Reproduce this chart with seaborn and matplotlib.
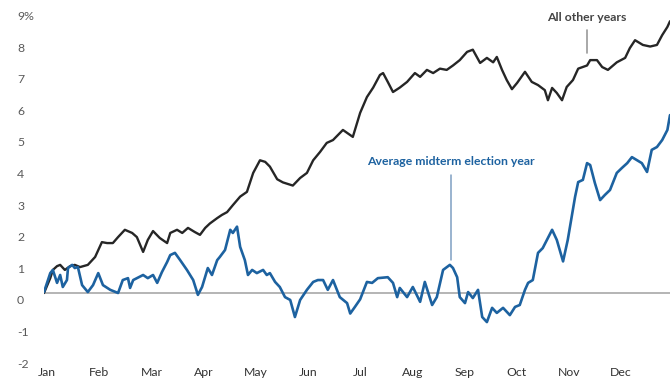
import numpy as np
import pandas as pd
import seaborn as sns
import matplotlib
matplotlib.use("Agg")
import matplotlib.pyplot as plt
from matplotlib.transforms import ScaledTranslation

# ---- data (x in months since Jan 1, y = cumulative return %) ----
other_x = [0.00, 0.12, 0.17, 0.25, 0.31, 0.40, 0.50, 0.59, 0.69, 0.84, 0.98, 1.11, 1.21, 1.32,
           1.42, 1.55, 1.69, 1.78, 1.90, 1.99, 2.09, 2.22, 2.36, 2.42, 2.55, 2.65, 2.76, 2.89,
           2.99, 3.09, 3.18, 3.32, 3.41, 3.51, 3.62, 3.76, 3.89, 4.01, 4.14, 4.24, 4.33, 4.47,
           4.58, 4.77, 4.91, 5.04, 5.16, 5.29, 5.42, 5.54, 5.73, 5.92, 6.06, 6.19, 6.31, 6.44,
           6.50, 6.59, 6.69, 6.82, 6.96, 7.11, 7.21, 7.34, 7.46, 7.59, 7.72, 7.84, 7.97, 8.11,
           8.22, 8.36, 8.49, 8.61, 8.68, 8.78, 8.87, 8.97, 9.07, 9.22, 9.35, 9.47, 9.60, 9.66,
           9.74, 9.83, 9.93, 10.02, 10.14, 10.24, 10.41, 10.47, 10.60, 10.70, 10.81, 10.98,
           11.14, 11.23, 11.33, 11.48, 11.62, 11.75, 11.85, 11.95, 12.00]
other_y = [0.00, 0.47, 0.73, 0.85, 0.89, 0.73, 0.85, 0.89, 0.82, 0.89, 1.14, 1.61, 1.58, 1.58,
           1.77, 2.00, 1.90, 1.77, 1.30, 1.68, 1.96, 1.74, 1.58, 1.90, 2.00, 1.90, 2.06, 1.93,
           1.84, 2.06, 2.20, 2.37, 2.47, 2.56, 2.78, 3.05, 3.20, 3.80, 4.20, 4.15, 4.00, 3.60,
           3.50, 3.40, 3.64, 3.80, 4.20, 4.46, 4.75, 4.84, 5.16, 4.94, 5.70, 6.20, 6.50, 6.90,
           6.96, 6.68, 6.36, 6.50, 6.68, 6.96, 6.84, 7.06, 6.96, 7.10, 7.06, 7.20, 7.37, 7.63,
           7.70, 7.28, 7.44, 7.30, 7.47, 7.06, 6.74, 6.45, 6.65, 7.00, 6.68, 6.58, 6.42, 6.10,
           6.49, 6.33, 6.10, 6.52, 6.74, 7.10, 7.20, 7.37, 7.37, 7.15, 7.06, 7.30,
           7.44, 7.75, 8.00, 7.85, 7.80, 7.85, 8.16, 8.42, 8.60]

midterm_x = [0.00, 0.12, 0.17, 0.25, 0.31, 0.36, 0.44, 0.46, 0.54, 0.59, 0.65, 0.73, 0.84, 0.94,
             1.04, 1.13, 1.27, 1.42, 1.51, 1.61, 1.65, 1.71, 1.90, 1.99, 2.09, 2.17, 2.26, 2.36,
             2.42, 2.51, 2.61, 2.74, 2.86, 2.95, 3.03, 3.14, 3.22, 3.32, 3.37, 3.47, 3.57, 3.62,
             3.70, 3.76, 3.85, 3.91, 3.99, 4.08, 4.20, 4.27, 4.33, 4.43, 4.52, 4.62, 4.72, 4.81,
             4.91, 5.04, 5.16, 5.25, 5.35, 5.44, 5.54, 5.67, 5.81, 5.87, 5.96, 6.06, 6.19, 6.29,
             6.40, 6.59, 6.69, 6.77, 6.82, 6.96, 7.07, 7.21, 7.30, 7.44, 7.53, 7.65, 7.78, 7.84,
             7.92, 7.97, 8.07, 8.13, 8.22, 8.32, 8.40, 8.49, 8.59, 8.68, 8.80, 8.93, 9.03, 9.12,
             9.22, 9.28, 9.37, 9.47, 9.56, 9.64, 9.74, 9.83, 9.95, 10.04, 10.18, 10.24, 10.33,
             10.41, 10.47, 10.56, 10.66, 10.75, 10.85, 10.98, 11.08, 11.18, 11.27, 11.37, 11.46,
             11.56, 11.65, 11.75, 11.85, 11.95, 12.00]
midterm_y = [0.03, 0.63, 0.73, 0.32, 0.57, 0.19, 0.41, 0.79, 0.89, 0.79, 0.82, 0.25, 0.03, 0.25,
             0.63, 0.25, 0.10, 0.00, 0.41, 0.47, 0.16, 0.41, 0.57, 0.47, 0.57, 0.32, 0.66, 0.98,
             1.20, 1.27, 1.04, 0.73, 0.41, -0.06, 0.19, 0.79, 0.57, 1.04, 1.14, 1.36, 2.00, 1.90,
             2.10, 1.46, 1.04, 0.57, 0.73, 0.63, 0.73, 0.57, 0.63, 0.35, 0.19, -0.13, -0.22, -0.76,
             -0.22, 0.10, 0.35, 0.41, 0.41, 0.10, 0.41, -0.13, -0.32, -0.65, -0.44, -0.20, 0.35, 0.32,
             0.47, 0.50, 0.32, -0.13, 0.16, -0.13, 0.19, -0.28, 0.35, -0.38, -0.13, 0.73, 0.89, 0.79,
             0.50, -0.13, -0.32, 0.03, -0.16, 0.10, -0.76, -0.92, -0.47, -0.63, -0.47, -0.70, -0.44, -0.38,
             0.10, 0.32, 0.41, 1.27, 1.42, 1.68, 2.00, 1.68, 1.00, 1.68, 3.04, 3.51, 3.58,
             4.11, 4.05, 3.48, 2.94, 3.10, 3.26, 3.80, 3.96, 4.11, 4.30, 4.20, 4.11,
             3.83, 4.53, 4.62, 4.84, 5.16, 5.63]

months = ["Jan", "Feb", "Mar", "Apr", "May", "Jun", "Jul", "Aug", "Sep", "Oct", "Nov", "Dec"]
y_ticks = [-2, -1, 0, 1, 2, 3, 4, 5, 6, 7, 8, 9]
y_labels = ["-2", "-1", "0", "1", "2", "3", "4", "5", "6", "7", "8", "9%"]

label_other = "All other years"
label_midterm = "Average midterm election year"

# ---- style ----
sns.set_style("white")
plt.rcParams["font.family"] = ["Lato", "DejaVu Sans"]

BLACK = "#262626"
BLUE = "#1d62a0"
GRAY_TXT = "#5a5a5a"

fig = plt.figure(figsize=(6.7, 3.78), dpi=100)
ax = fig.add_axes([44 / 670, 1 - 356.2 / 378, 1 - 44 / 670, (356.2 - 8.6) / 378])

ax.axhline(0, color="#b4b4b4", lw=1.4, zorder=1)

sns.lineplot(x=other_x, y=other_y, color=BLACK, lw=1.7, ax=ax, zorder=3)
sns.lineplot(x=midterm_x, y=midterm_y, color=BLUE, lw=1.9, ax=ax, zorder=3)

ax.set_xlim(0, 12)
ax.set_ylim(-2, 9)
for s in ax.spines.values():
    s.set_visible(False)
ax.grid(False)

ax.set_yticks(y_ticks)
ax.set_yticklabels(y_labels)
ax.tick_params(axis="y", length=0, pad=19.4, labelsize=8.8, labelcolor=GRAY_TXT)
off = ScaledTranslation(0, -7 / 100, fig.dpi_scale_trans)
for lab in ax.get_yticklabels():
    lab.set_horizontalalignment("left")
    lab.set_transform(lab.get_transform() + off)

ax.set_xticks([i + 0.06 for i in range(12)])
ax.set_xticklabels(months)
ax.tick_params(axis="x", length=0, pad=8, labelsize=8.8, labelcolor="#333333")

# annotations
ax.text(10.41, 8.73, label_other, ha="center", va="center", fontsize=8.8,
        fontweight="bold", color="#444444")
ax.plot([10.41, 10.41], [8.32, 7.59], color="#9a9a9a", lw=1.2)

ax.text(7.80, 4.15, label_midterm, ha="center", va="center", fontsize=8.8,
        fontweight="bold", color=BLUE)
ax.plot([7.80, 7.80], [3.73, 1.04], color="#7f9fc2", lw=1.1)

ax.set_xlabel("")
ax.set_ylabel("")

fig.savefig("out.png", dpi=100)
